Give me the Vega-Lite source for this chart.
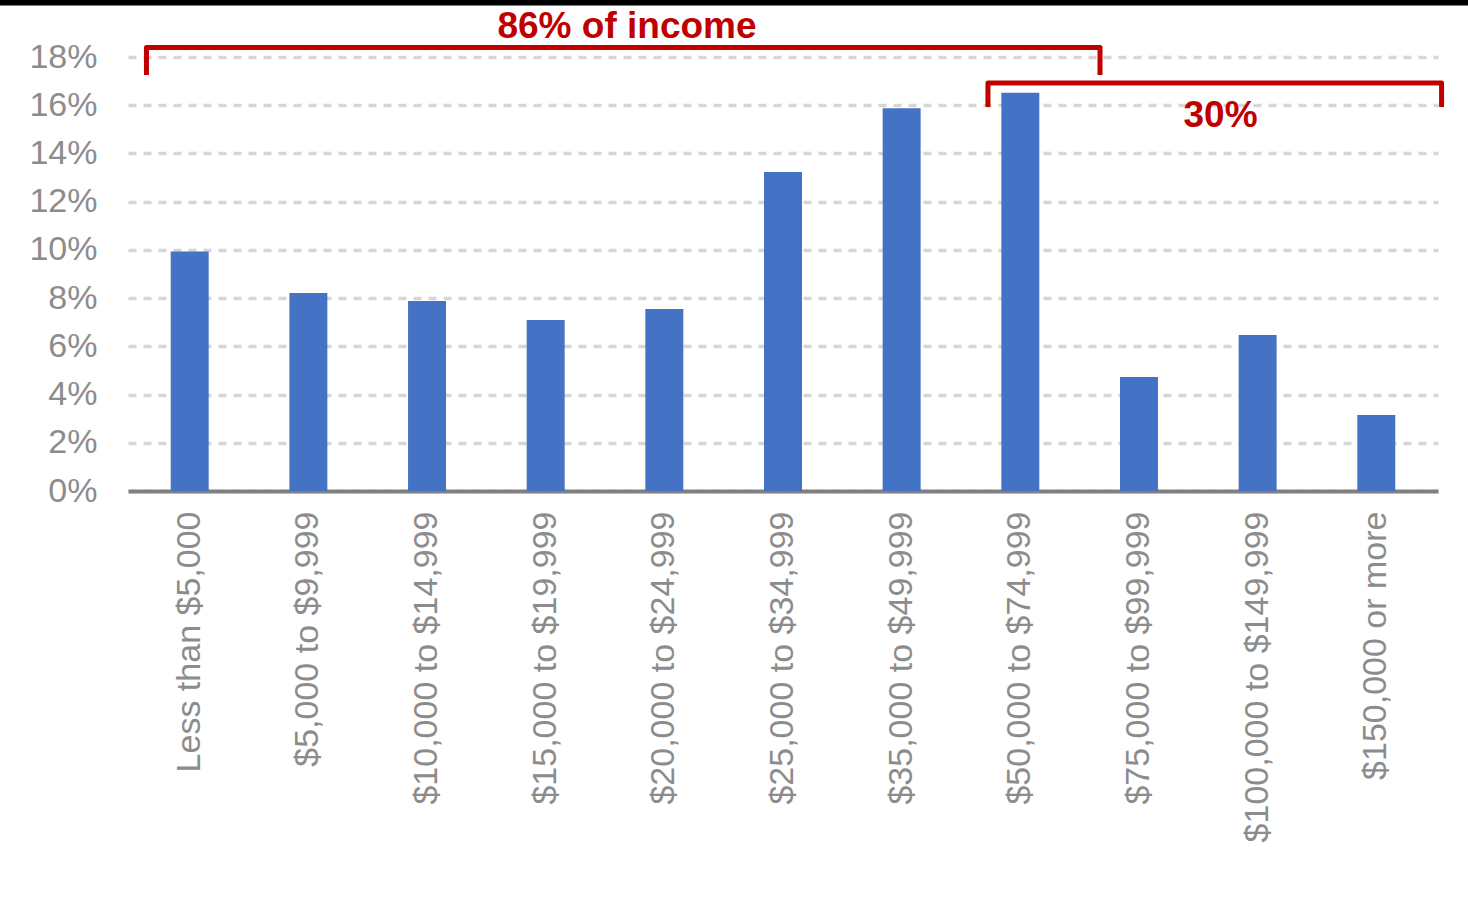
{
  "$schema": "https://vega.github.io/schema/vega-lite/v6.json",
  "width": 1310,
  "height": 434,
  "autosize": {"type": "none"},
  "padding": {"left": 128, "top": 57, "right": 30, "bottom": 414},
  "background": "white",
  "config": {"view": {"stroke": null}, "font": "Liberation Sans"},
  "datasets": {
    "bars": [
      {"income": "Less than $5,000", "share": 0.0993},
      {"income": "$5,000 to $9,999", "share": 0.0821},
      {"income": "$10,000 to $14,999", "share": 0.0788},
      {"income": "$15,000 to $19,999", "share": 0.0709},
      {"income": "$20,000 to $24,999", "share": 0.0755},
      {"income": "$25,000 to $34,999", "share": 0.1323},
      {"income": "$35,000 to $49,999", "share": 0.1587},
      {"income": "$50,000 to $74,999", "share": 0.1652},
      {"income": "$75,000 to $99,999", "share": 0.0473},
      {"income": "$100,000 to $149,999", "share": 0.0647},
      {"income": "$150,000 or more", "share": 0.0315}
    ],
    "brackets": [
      {"bracket": "a", "ord": 1, "x": 0.155, "y": 0.1725},
      {"bracket": "a", "ord": 2, "x": 0.155, "y": 0.1839},
      {"bracket": "a", "ord": 3, "x": 8.162, "y": 0.1839},
      {"bracket": "a", "ord": 4, "x": 8.162, "y": 0.1725},
      {"bracket": "b", "ord": 1, "x": 7.221, "y": 0.1593},
      {"bracket": "b", "ord": 2, "x": 7.221, "y": 0.1692},
      {"bracket": "b", "ord": 3, "x": 11.03, "y": 0.1692},
      {"bracket": "b", "ord": 4, "x": 11.03, "y": 0.1593}
    ],
    "labels": [
      {"text": "86% of income", "x": 4.19, "y": 0.1879},
      {"text": "30%", "x": 9.174, "y": 0.1511}
    ],
    "topbar": [
      {"ord": 1, "x": -1.08, "y": 0.2025},
      {"ord": 2, "x": 11.26, "y": 0.2025}
    ]
  },
  "layer": [
    {
      "data": {"name": "bars"},
      "mark": {"type": "bar", "color": "#4472C4"},
      "encoding": {
        "x": {
          "field": "income",
          "type": "nominal",
          "sort": null,
          "scale": {"paddingInner": 0.68, "paddingOuter": 0.36},
          "axis": {
            "title": null,
            "domain": true,
            "domainColor": "#808080",
            "domainWidth": 4,
            "ticks": false,
            "labelAngle": -90,
            "labelAlign": "right",
            "labelBaseline": "middle",
            "labelPadding": 20,
            "labelFontSize": 34,
            "labelColor": "#8c8c8c",
            "labelLimit": 600
          }
        },
        "y": {
          "field": "share",
          "type": "quantitative",
          "scale": {"domain": [0, 0.18], "nice": false},
          "axis": {
            "title": null,
            "domain": false,
            "ticks": false,
            "values": [0, 0.02, 0.04, 0.06, 0.08, 0.1, 0.12, 0.14, 0.16, 0.18],
            "format": ".0%",
            "grid": true,
            "gridColor": "#d6d6d6",
            "gridDash": [8, 7],
            "gridWidth": 3.5,
            "labelFontSize": 34,
            "labelColor": "#8c8c8c",
            "labelPadding": 31
          }
        }
      }
    },
    {
      "data": {"name": "brackets"},
      "mark": {"type": "line", "color": "#C00000", "strokeWidth": 5, "strokeJoin": "round", "strokeCap": "butt"},
      "encoding": {
        "x": {"field": "x", "type": "quantitative", "scale": {"domain": [0, 11], "nice": false, "zero": false}, "axis": null},
        "y": {"field": "y", "type": "quantitative"},
        "detail": {"field": "bracket"},
        "order": {"field": "ord"}
      }
    },
    {
      "data": {"name": "labels"},
      "mark": {"type": "text", "color": "#C00000", "fontSize": 37, "fontWeight": "bold", "align": "center", "baseline": "alphabetic"},
      "encoding": {
        "x": {"field": "x", "type": "quantitative", "scale": {"domain": [0, 11], "nice": false, "zero": false}, "axis": null},
        "y": {"field": "y", "type": "quantitative"},
        "text": {"field": "text"}
      }
    },
    {
      "data": {"name": "topbar"},
      "mark": {"type": "line", "color": "black", "strokeWidth": 5.5, "strokeCap": "butt"},
      "encoding": {
        "x": {"field": "x", "type": "quantitative", "scale": {"domain": [0, 11], "nice": false, "zero": false}, "axis": null},
        "y": {"field": "y", "type": "quantitative"},
        "order": {"field": "ord"}
      }
    }
  ],
  "resolve": {"scale": {"x": "independent"}}
}
